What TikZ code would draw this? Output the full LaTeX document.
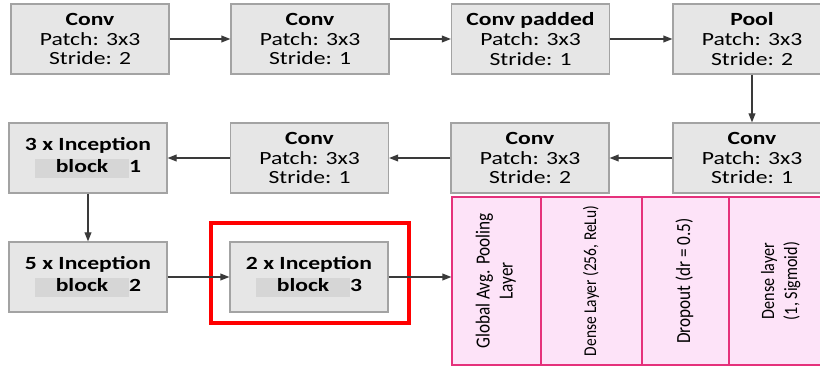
\documentclass[tikz,border=0pt]{standalone}
\usepackage{fontspec}
\setmainfont{Carlito}
\newfontfamily\boxfont[FakeStretch=1.27]{Carlito}
\newfontfamily\fcfont[FakeStretch=0.86]{Carlito}
\usetikzlibrary{arrows.meta}
\definecolor{boxfill}{HTML}{E6E6E6}
\definecolor{boxline}{HTML}{A3A3A3}
\definecolor{hilite}{HTML}{D6D6D6}
\definecolor{fcfill}{HTML}{FDE3F8}
\definecolor{fcline}{HTML}{E5317B}
\definecolor{arrowgray}{HTML}{3A3A3A}
\newcommand{\blocklabel}[1]{{\setlength{\fboxsep}{0pt}\colorbox{hilite}{\rule[-2.8pt]{0pt}{9.6pt}\hspace{10.5pt}block\hspace{10.5pt}}}#1}
\newcommand{\vlabel}[1]{\rotatebox{90}{\begin{tabular}{@{}c@{}}#1\end{tabular}}}

\begin{document}
\begin{tikzpicture}[x=0.5pt,y=-0.5pt,
	layer/.style={draw=boxline, fill=boxfill, line width=0.6pt, minimum width=79pt, minimum height=35pt,
		align=center, inner sep=0pt, font=\boxfont\fontsize{9.3}{9.9}\selectfont},
	fc/.style={draw=fcline, fill=fcfill, line width=0.6pt, minimum height=84pt, inner sep=0pt,
		font=\fcfont\fontsize{10}{11.5}\selectfont},
	flow/.style={draw=arrowgray, line width=0.6pt, -{Triangle[length=4.5pt,width=3.4pt]}}]
	\useasboundingbox (0,0) rectangle (820,369);
	\clip (0,0) rectangle (820,369);
	\node[layer] (conva) at (90,39) {\textbf{Conv}\\Patch: 3x3\\Stride: 2};
	\node[layer] (convb) at (310,39) {\textbf{Conv}\\Patch: 3x3\\Stride: 1};
	\node[layer] (convpad) at (530.5,39) {\textbf{Conv padded}\\Patch: 3x3\\Stride: 1};
	\node[layer] (pool) at (752,39) {\textbf{Pool}\\Patch: 3x3\\Stride: 2};
	\node[layer] (convc) at (752,158) {\textbf{Conv}\\Patch: 3x3\\Stride: 1};
	\node[layer] (convd) at (530,158) {\textbf{Conv}\\Patch: 3x3\\Stride: 2};
	\node[layer] (conve) at (309.5,158) {\textbf{Conv}\\Patch: 3x3\\Stride: 1};
	\node[layer] (incA) at (88,158) {\textbf{3 x Inception}\\[1pt]\textbf{\blocklabel{1}}};
	\node[layer] (incB) at (88,277) {\textbf{5 x Inception}\\[1pt]\textbf{\blocklabel{2}}};
	\node[layer] (incC) at (309,277) {\textbf{2 x Inception}\\[1pt]\textbf{\blocklabel{3}}};
	\draw[red, line width=1.6pt] (211,223) rectangle (409,323);
	\node[fc, minimum width=44.5pt] (gap) at (496.5,281) {\vlabel{Global Avg. Pooling\\Layer}};
	\node[fc, minimum width=50.5pt, font=\fcfont\fontsize{9}{11.5}\selectfont] (dense) at (591.5,281) {\vlabel{Dense Layer (256, ReLu)}};
	\node[fc, minimum width=43.5pt] (drop) at (685.5,281) {\vlabel{Dropout (dr = 0.5)}};
	\node[fc, minimum width=52pt, font=\fcfont\fontsize{9.4}{11.5}\selectfont] (out) at (781,281) {\vlabel{Dense layer\\(1, Sigmoid)}};
	\draw[flow] (conva) -- (convb);
	\draw[flow] (convb) -- (convpad);
	\draw[flow] (convpad) -- (pool);
	\draw[flow] (pool) -- (convc);
	\draw[flow] (convc) -- (convd);
	\draw[flow] (convd) -- (conve);
	\draw[flow] (conve) -- (incA);
	\draw[flow] (incA) -- (incB);
	\draw[flow] (incB) -- (incC);
	\draw[flow] (incC.east) -- (incC.east -| gap.west);
\end{tikzpicture}
\end{document}
